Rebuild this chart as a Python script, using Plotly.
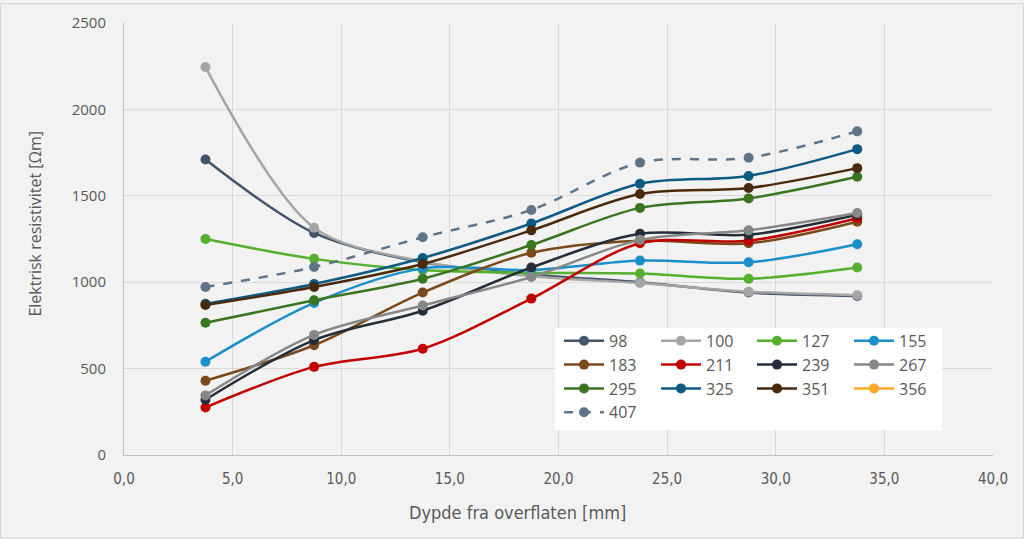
import plotly.graph_objects as go

# ---- data ----
depth = [3.75, 8.75, 13.75, 18.75, 23.75, 28.75, 33.75]
series_names = ["98", "100", "127", "155", "183", "211", "239", "267", "295", "325", "351", "356", "407"]
s98 = [1710, 1285, 1115, 1045, 1000, 940, 920]
s100 = [2245, 1315, 1120, 1035, 995, 945, 925]
s127 = [1250, 1135, 1070, 1055, 1050, 1020, 1085]
s155 = [540, 880, 1080, 1070, 1125, 1115, 1220]
s183 = [430, 635, 940, 1170, 1240, 1225, 1350]
s211 = [275, 510, 615, 905, 1225, 1240, 1370]
s239 = [320, 665, 835, 1085, 1280, 1275, 1390]
s267 = [345, 695, 865, 1030, 1245, 1300, 1400]
s295 = [765, 895, 1020, 1215, 1430, 1485, 1610]
s325 = [875, 990, 1140, 1340, 1570, 1615, 1770]
s351 = [868, 972, 1105, 1300, 1510, 1545, 1660]
s356 = [None, None, None, None, None, None, None]
s407 = [972, 1088, 1260, 1418, 1692, 1720, 1873]
values = [s98, s100, s127, s155, s183, s211, s239, s267, s295, s325, s351, s356, s407]

x_ticks = [0, 5, 10, 15, 20, 25, 30, 35, 40]
x_ticktext = ["0,0", "5,0", "10,0", "15,0", "20,0", "25,0", "30,0", "35,0", "40,0"]
y_ticks = [0, 500, 1000, 1500, 2000, 2500]

# ---- styles ----
colors = ["#44546a", "#a5a5a5", "#56b030", "#1a8fc9", "#7b4a1b", "#c00000", "#252d38",
          "#878787", "#3a7520", "#0d5a82", "#4a2a0c", "#ffa928", "#5f7486"]
dashes = ["solid"] * 12 + ["dash"]
legend_ids = ["legend", "legend2", "legend3", "legend4"] * 3 + ["legend"]

W, H = 1024, 539
L, R, T, B = 124, 993, 20, 455


def px(p):
    return (p - L) / (R - L)


def py(p):
    return (B - p) / (B - T)


fig = go.Figure()
for name, vals, c, d, lg in zip(series_names, values, colors, dashes, legend_ids):
    fig.add_trace(go.Scatter(
        x=depth, y=vals, name=name, mode="lines+markers",
        line=dict(color=c, width=2.5, dash=d, shape="spline", smoothing=0.9),
        marker=dict(color=c, size=10),
        legend=lg,
    ))

font_main = "Open Sans"
font_cond = "DejaVu Sans Condensed, Roboto Condensed, Liberation Sans Narrow, Roboto"
txt = "#595959"

legend_common = dict(
    bgcolor="rgba(0,0,0,0)", borderwidth=0, xanchor="left", yanchor="top",
    font=dict(family=font_main, size=16, color=txt), itemwidth=40,
    tracegroupgap=0,
)
col_px = [559, 656, 752, 849]
lay_leg = {}
for i, lid in enumerate(["legend", "legend2", "legend3", "legend4"]):
    lay_leg[lid] = dict(x=px(col_px[i]), y=py(323), **legend_common)

fig.update_layout(
    width=W, height=H,
    margin=dict(l=L, r=W - R, t=T, b=H - B, pad=0),
    paper_bgcolor="#f2f2f2", plot_bgcolor="#f2f2f2",
    showlegend=True,
    **lay_leg,
    xaxis=dict(range=[0, 40], tickvals=x_ticks, ticktext=x_ticktext,
               showgrid=True, gridcolor="#d9d9d9", gridwidth=1,
               showline=True, linecolor="#bfbfbf", linewidth=1,
               zeroline=False, ticks="", ticklabelstandoff=10,
               tickfont=dict(family=font_cond, size=15, color=txt)),
    yaxis=dict(range=[0, 2500], tickvals=y_ticks,
               showgrid=True, gridcolor="#d9d9d9", gridwidth=1,
               showline=True, linecolor="#bfbfbf", linewidth=1,
               zeroline=False, ticks="", ticklabelstandoff=14,
               tickfont=dict(family=font_main, size=15, color=txt)),
    annotations=[
        dict(text="Dypde fra overflaten [mm]", xref="paper", yref="paper",
             x=px(517), y=py(513), showarrow=False, xanchor="center", yanchor="middle",
             font=dict(family=font_cond, size=18, color=txt)),
        dict(text="Elektrisk resistivitet [Ωm]", xref="paper", yref="paper",
             x=px(35), y=py(222), showarrow=False, textangle=-90,
             xanchor="center", yanchor="middle",
             font=dict(family=font_main, size=16, color=txt)),
    ],
    shapes=[
        dict(type="rect", xref="paper", yref="paper", layer="above",
             x0=px(555), x1=px(942), y0=py(327), y1=py(430),
             fillcolor="#ffffff", line=dict(width=0)),
        dict(type="rect", xref="paper", yref="paper", layer="below",
             x0=px(0.5), x1=px(W - 0.5), y0=py(0.5), y1=py(H - 0.5),
             fillcolor="rgba(0,0,0,0)", line=dict(color="#d4d4d4", width=1)),
    ],
)

fig.write_html("out.html")
